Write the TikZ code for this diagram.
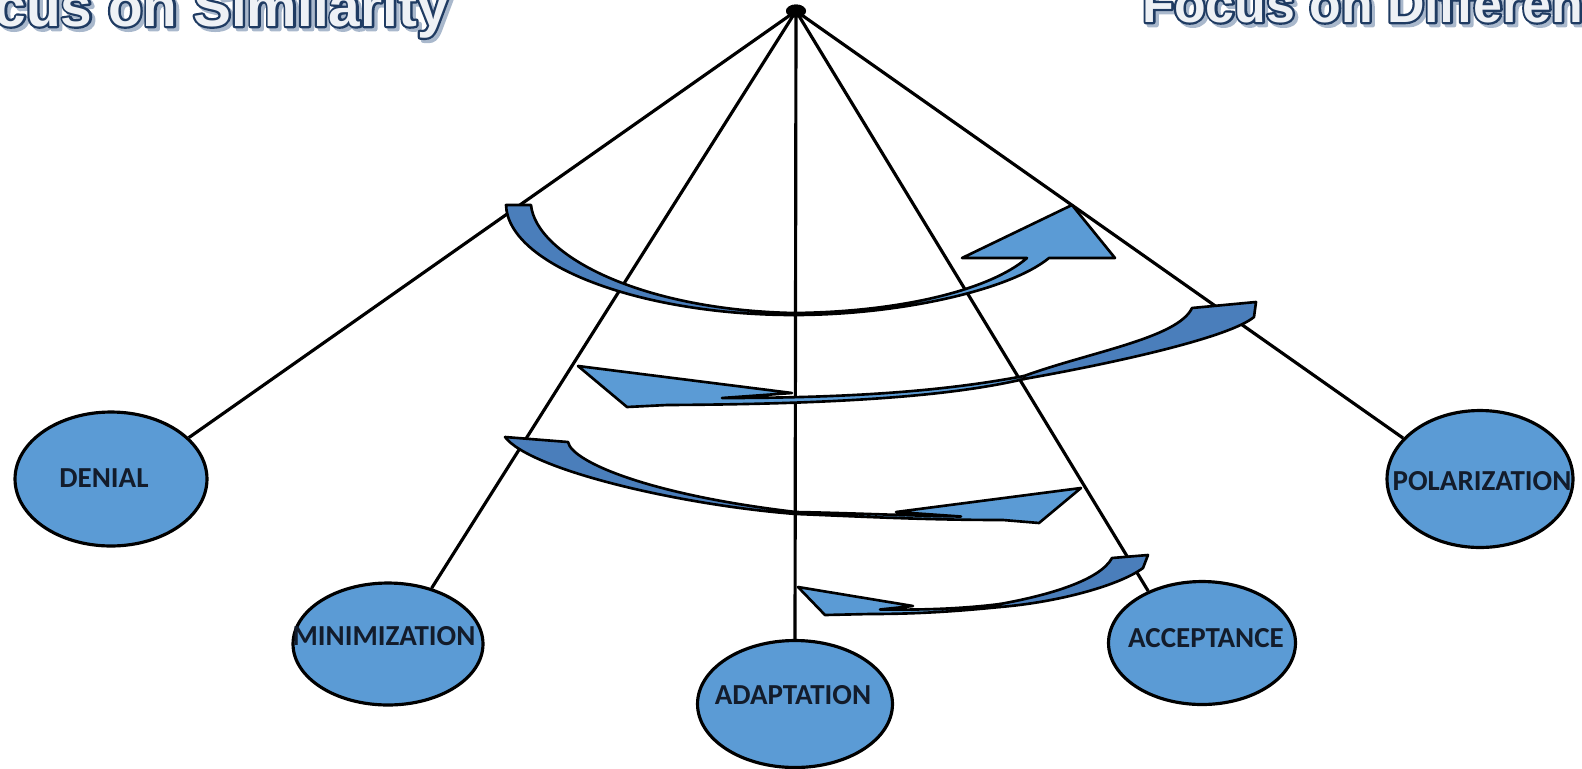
\documentclass[tikz,border=0pt]{standalone}
\usepackage{fontspec}
\usetikzlibrary{shapes.geometric}
\newfontfamily\lblfont{Carlito}
\newfontfamily\ttlfont{Liberation Sans}
\definecolor{cblue}{HTML}{5B9BD5}
\definecolor{dblue}{HTML}{4A7EBB}
\definecolor{lblnavy}{HTML}{131C2B}
\definecolor{tnavy}{HTML}{1F3B62}
\definecolor{tfill}{HTML}{EEF1F5}
\definecolor{tshadow}{HTML}{A9B8CC}
\newcommand\edgetext[1]{\special{pdf:literal direct 1 Tr 2.6 w 1 j}#1\special{pdf:literal direct 0 Tr}}
\newcommand\shadowtext[1]{\special{pdf:literal direct 2 Tr 2.6 w 1 j}#1\special{pdf:literal direct 0 Tr}}
\begin{document}
\begin{tikzpicture}[x=0.02cm,y=-0.02cm,
  stage/.style={ellipse, draw=black, line width=1.8pt, fill=cblue, inner sep=0pt},
  lbl/.style={inner sep=0pt, font=\lblfont\bfseries\fontsize{16.5}{19}\selectfont, text=lblnavy},
  spoke/.style={line width=1.8pt, draw=black},
  ribbon/.style={draw=black, line width=1.5pt, line join=round},
  ttlL/.style={font=\ttlfont\bfseries\fontsize{32.3}{38}\selectfont, inner sep=0pt},
  ttlR/.style={font=\ttlfont\bfseries\fontsize{29.5}{35}\selectfont, inner sep=0pt}
]
\useasboundingbox (0,0) rectangle (1582,768);
\clip (0,0) rectangle (1582,768);

% titles
\coordinate (tl) at (449,26);
\coordinate (tr) at (1142,22);
\node[ttlL, text=tshadow, anchor=base east, xshift=1.8pt, yshift=-1.8pt] (simshadow) at (tl) {\shadowtext{Focus on Similarity}};
\node[ttlL, text=tnavy, anchor=base east] (simedge) at (tl) {\edgetext{Focus on Similarity}};
\node[ttlL, text=tfill, anchor=base east] (simtitle) at (tl) {Focus on Similarity};
\node[ttlR, text=tshadow, anchor=base west, xshift=1.8pt, yshift=-1.8pt] (difshadow) at (tr) {\shadowtext{Focus on Difference}};
\node[ttlR, text=tnavy, anchor=base west] (difedge) at (tr) {\edgetext{Focus on Difference}};
\node[ttlR, text=tfill, anchor=base west] (diftitle) at (tr) {Focus on Difference};

% apex and stages
\node[ellipse, fill=black, inner sep=0pt, minimum width=0.4cm, minimum height=0.26cm] (apex) at (796,11) {};
\node[stage, minimum width=3.84cm, minimum height=2.68cm] (denial) at (111,479) {};
\node[stage, minimum width=3.8cm, minimum height=2.44cm] (minim) at (388,644) {};
\node[stage, minimum width=3.9cm, minimum height=2.54cm] (adapt) at (795,704) {};
\node[stage, minimum width=3.74cm, minimum height=2.46cm] (accept) at (1202,643) {};
\node[stage, minimum width=3.72cm, minimum height=2.74cm] (polar) at (1480,479) {};

% spokes
\draw[spoke] (apex.center) -- (denial.28);
\draw[spoke] (apex.center) -- (minim.52);
\draw[spoke] (apex.center) -- (adapt.north);
\draw[spoke] (apex.center) -- (accept.136);
\draw[spoke] (apex.center) -- (polar.152);
\node[ellipse, fill=black, inner sep=0pt, minimum width=0.4cm, minimum height=0.26cm] (apexdot) at (apex.center) {};

% labels
\node[lbl] (denialt) at (104,478) {DENIAL};
\node[lbl] (minimt) at (384,636) {MINIMIZATION};
\node[lbl] (adaptt) at (793,695) {ADAPTATION};
\node[lbl] (acceptt) at (1206,638) {ACCEPTANCE};
\node[lbl] (polart) at (1482,481) {POLARIZATION};

% ribbon 1
\filldraw[ribbon, fill=dblue] (506,205) -- (531,205) .. controls (536,255) and (640,310) .. (794,313) -- (794,315) .. controls (640,315) and (508,265) .. (506,205) -- cycle;
\filldraw[ribbon, fill=cblue] (794,313) .. controls (900,312) and (990,290) .. (1027,258) -- (962,258) -- (1072,205) -- (1115,258) -- (1049,258) .. controls (1010,290) and (900,315) .. (794,315) -- cycle;

% ribbon 2
\filldraw[ribbon, fill=dblue] (1024,376) .. controls (1090,352) and (1178,338) .. (1192,308) -- (1256,302) -- (1254,317) .. controls (1230,337) and (1120,362) .. (1024,379) -- cycle;
\filldraw[ribbon, fill=cblue] (1024,376) .. controls (950,390) and (860,398) .. (722,398) -- (792,393) -- (578,366) -- (627,407) -- (667,405) .. controls (860,404) and (960,394) .. (1024,379) -- cycle;

% ribbon 3
\filldraw[ribbon, fill=dblue] (505,437) -- (568,442) .. controls (572,462) and (650,495) .. (796,512) -- (796,514) .. controls (680,505) and (530,470) .. (505,437) -- cycle;
\filldraw[ribbon, fill=cblue] (796,512) .. controls (850,513) and (920,516) .. (961,516.5) -- (896,512) -- (1081,488) -- (1039,523) -- (1003,520) .. controls (920,520) and (850,516) .. (796,514) -- cycle;

% ribbon 4
\filldraw[ribbon, fill=dblue] (1000,604) .. controls (1050,595) and (1100,580) .. (1112,558) -- (1148,555) -- (1143,568) .. controls (1120,585) and (1060,602) .. (1000,607) -- cycle;
\filldraw[ribbon, fill=cblue] (1000,604) .. controls (960,609) and (920,610) .. (880,609.5) -- (913,606) -- (798,587) -- (825,615) -- (870,614) .. controls (920,614) and (960,611) .. (1000,607) -- cycle;
\end{tikzpicture}
\end{document}
